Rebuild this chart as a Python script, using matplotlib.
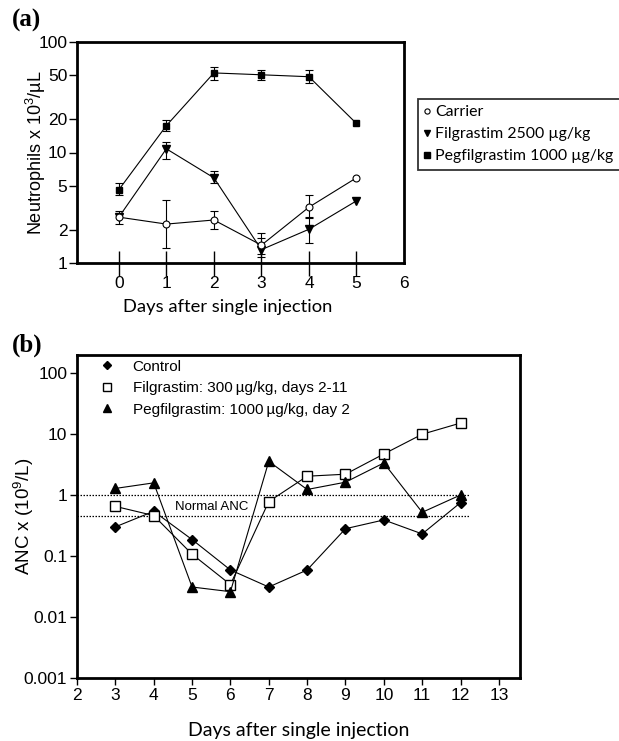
import matplotlib.pyplot as plt
from matplotlib.ticker import NullLocator

plt.rcParams['font.family'] = ['Liberation Sans', 'DejaVu Sans']
plt.rcParams['mathtext.fontset'] = 'custom'
plt.rcParams['mathtext.rm'] = 'Liberation Sans'

# ---- panel (a): neutrophils after single injection ----
days_a = [0, 1, 2, 3, 4, 5]
carrier = [2.6, 2.25, 2.45, 1.45, 3.2, 5.9]
filgrastim_a = [2.6, 10.8, 5.9, 1.32, 2.02, 3.65]
peg_a = [4.6, 17.5, 52.5, 50.5, 48.5, 18.3]

# error bar ends (low, high) for days with visible bars
carrier_err_days = [0, 1, 2, 3, 4]
carrier_lo = [2.25, 1.37, 2.05, 1.2, 2.6]
carrier_hi = [2.95, 3.7, 2.95, 1.85, 4.1]
filg_err_days = [1, 2, 3, 4]
filg_lo = [8.7, 5.25, 1.13, 1.53]
filg_hi = [12.5, 6.8, 1.7, 2.55]
peg_err_days = [0, 1, 2, 3, 4]
peg_lo = [4.1, 15.5, 45.7, 45.7, 42.6]
peg_hi = [5.25, 19.7, 58.9, 56.0, 56.0]

yticks_a = [1, 2, 5, 10, 20, 50, 100]

# ---- panel (b): ANC ----
days_b = [3, 4, 5, 6, 7, 8, 9, 10, 11, 12]
control = [0.30, 0.54, 0.186, 0.059, 0.031, 0.059, 0.28, 0.39, 0.23, 0.75]
filgrastim_b = [0.65, 0.46, 0.107, 0.034, 0.78, 2.03, 2.19, 4.7, 9.9, 15.1]
peg_b = [1.28, 1.58, 0.031, 0.026, 3.56, 1.23, 1.62, 3.35, 0.52, 1.0]
normal_anc = [0.45, 1.0]

yticks_b = [0.001, 0.01, 0.1, 1, 10, 100]
ytick_labels_b = ['0.001', '0.01', '0.1', '1', '10', '100']

W, H = 619, 741
fig = plt.figure(figsize=(W / 100, H / 100), dpi=100)

calibri = ['Lato', 'DejaVu Sans']


def err_pair(values, days, err_days, lo, hi):
    vals = [values[days.index(d)] for d in err_days]
    return vals, [[v - l for v, l in zip(vals, lo)], [h - v for v, h in zip(vals, hi)]]


# ===== (a) =====
ax1 = fig.add_axes([77 / W, 1 - 263 / H, 327 / W, 221 / H])
ax1.set_yscale('log')

ebk = dict(fmt='none', ecolor='black', elinewidth=0.8, capsize=3, capthick=0.8)
v, e = err_pair(peg_a, days_a, peg_err_days, peg_lo, peg_hi)
ax1.errorbar(peg_err_days, v, yerr=e, zorder=2, **ebk)
v, e = err_pair(filgrastim_a, days_a, filg_err_days, filg_lo, filg_hi)
ax1.errorbar(filg_err_days, v, yerr=e, zorder=2, **ebk)
v, e = err_pair(carrier, days_a, carrier_err_days, carrier_lo, carrier_hi)
ax1.errorbar(carrier_err_days, v, yerr=e, zorder=2, **ebk)

l_peg, = ax1.plot(days_a, peg_a, color='black', lw=0.8, marker='s', ms=5,
                  mfc='black', mec='black', zorder=3)
l_fil, = ax1.plot(days_a, filgrastim_a, color='black', lw=0.8, marker='v', ms=5.5,
                  mfc='black', mec='black', zorder=4)
l_car, = ax1.plot(days_a, carrier, color='black', lw=0.8, marker='o', ms=5,
                  mfc='white', mec='black', mew=0.8, zorder=5)

ax1.set_xlim(-0.88, 6)
ax1.set_ylim(1, 100)
ax1.set_yticks(yticks_a)
ax1.set_yticklabels([str(t) for t in yticks_a])
ax1.yaxis.set_minor_locator(NullLocator())
ax1.set_xticks(range(0, 7))
ax1.tick_params(axis='y', direction='out', length=6, width=1, labelsize=12.5, pad=1)
ax1.tick_params(axis='x', direction='inout', length=18, width=1, labelsize=12.5, pad=0)
ax1.xaxis.get_major_ticks()[-1].tick1line.set_visible(False)
for s in ax1.spines.values():
    s.set_linewidth(2)
ax1.set_ylabel(r'Neutrophils x 10$^{\mathrm{3}}$/µL', fontsize=13)
ax1.yaxis.set_label_coords(-0.09, 0.5)
ax1.set_xlabel('Days after single injection', fontsize=13.2, family=calibri, labelpad=4)
ax1.xaxis.set_label_coords(0.462, -0.165)

fig.legend([l_car, l_fil, l_peg],
           ['Carrier', 'Filgrastim 2500 µg/kg', 'Pegfilgrastim 1000 µg/kg'],
           loc='upper left', bbox_to_anchor=(418 / W, 1 - 99 / H),
           prop={'family': calibri, 'size': 11.4}, frameon=True, fancybox=False,
           edgecolor='black', handlelength=0.3, handletextpad=0.4,
           borderpad=0.4, labelspacing=0.5, borderaxespad=0, markerscale=0.75)
fig.legends[0].get_frame().set_linewidth(1.3)
for h in fig.legends[0].legend_handles:
    h.set_linestyle('none')

# ===== (b) =====
ax2 = fig.add_axes([77 / W, 1 - 678 / H, 443 / W, 323 / H])
ax2.set_yscale('log')

for y in normal_anc:
    ax2.plot([2, 12.25], [y, y], color='black', lw=0.9, ls=(0, (1.2, 1.2)), zorder=1)
ax2.text(5.5, 0.64, 'Normal ANC', fontsize=9.5, ha='center', va='center')

m_ctl, = ax2.plot(days_b, control, color='black', lw=0.8, marker='D', ms=5.5,
                  mfc='black', mec='black', zorder=3)
m_fil, = ax2.plot(days_b, filgrastim_b, color='black', lw=0.8, marker='s', ms=6.5,
                  mfc='white', mec='black', mew=1, zorder=4)
m_peg, = ax2.plot(days_b, peg_b, color='black', lw=0.8, marker='^', ms=7,
                  mfc='black', mec='black', zorder=5)

ax2.set_xlim(2, 13.55)
ax2.set_ylim(0.001, 197)
ax2.set_xticks(range(2, 14))
ax2.set_yticks(yticks_b)
ax2.set_yticklabels(ytick_labels_b)
ax2.yaxis.set_minor_locator(NullLocator())
ax2.tick_params(axis='both', direction='out', length=5, width=1, labelsize=12.5, pad=2)
for s in ax2.spines.values():
    s.set_linewidth(2)
ax2.set_ylabel('ANC x (10$^{\\mathrm{9}}$/L)', fontsize=13.5)
ax2.yaxis.set_label_coords(-0.092, 0.5)
ax2.set_xlabel('Days after single injection', fontsize=14, family=calibri, labelpad=14)

leg2 = ax2.legend([m_ctl, m_fil, m_peg],
                  ['Control', 'Filgrastim: 300\u2009µg/kg, days 2-11',
                   'Pegfilgrastim: 1000\u2009µg/kg, day 2'],
                  loc='upper left', bbox_to_anchor=(22 / 443, 0.986),
                  frameon=False, fontsize=11, handlelength=1.0,
                  handletextpad=1.2, borderpad=0, borderaxespad=0,
                  labelspacing=0.5, markerscale=0.8)
for h in leg2.legend_handles:
    h.set_linestyle('none')

# panel letters
fig.text(12 / W, 1 - 20 / H, '(a)', family=['Liberation Serif'], fontweight='bold',
         fontsize=18, va='center', ha='left')
fig.text(12 / W, 1 - 345 / H, '(b)', family=['Liberation Serif'], fontweight='bold',
         fontsize=18, va='center', ha='left')

fig.savefig('out.png', dpi=100)
